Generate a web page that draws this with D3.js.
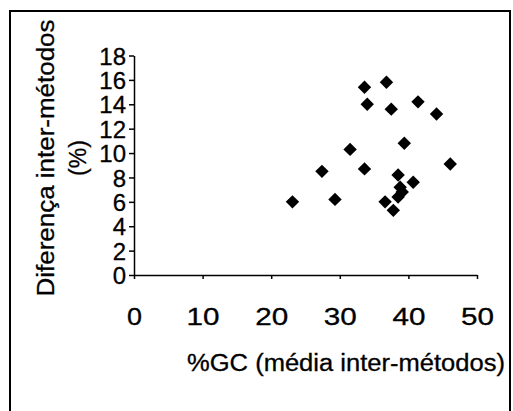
<!DOCTYPE html>
<html><head><meta charset="utf-8">
<script src="https://cdn.jsdelivr.net/npm/d3@7"></script>
<style>body{margin:0;background:#fff}svg{display:block}text{font-family:"Liberation Sans",Arial,sans-serif;fill:#000}</style>
</head><body>
<svg id="c" width="513" height="411"></svg>
<script>
const gcMean = [23.1,29.3,27.4,31.5,33.6,33.6,34.0,36.8,37.5,41.4,44.1,39.4,46.1,36.6,37.8,38.5,40.7,38.8,39.1,38.5];
const diff   = [6.0,6.2,8.5,10.3,8.7,15.4,14.0,15.8,13.6,14.2,13.2,10.8,9.1,6.0,5.3,8.2,7.6,7.2,6.8,6.4];
const xTicks = [0,10,20,30,40,50];
const yTicks = [0,2,4,6,8,10,12,14,16,18];
const xTitle = "%GC (média inter-métodos)";
const yTitle1 = "Diferença inter-métodos";
const yTitle2 = "(%)";

const svg = d3.select("#c");
svg.append("rect").attr("x",10).attr("y",11).attr("width",500).attr("height",420)
  .attr("fill","none").attr("stroke","#000").attr("stroke-width",2);

const x = d3.scaleLinear().domain([0,50]).range([134,477]);
const y = d3.scaleLinear().domain([0,18]).range([275,55.5]);

const xa = svg.append("g").attr("transform","translate(0,275)")
  .call(d3.axisBottom(x).tickValues(xTicks).tickSize(4).tickPadding(29).tickSizeOuter(0));
const ya = svg.append("g").attr("transform","translate(134,0)")
  .call(d3.axisLeft(y).tickValues(yTicks).tickSize(5).tickPadding(3).tickSizeOuter(0));
[xa,ya].forEach(a=>{
  a.select(".domain").attr("stroke","#000").attr("stroke-width",1.5);
  a.selectAll(".tick line").attr("stroke","#000").attr("stroke-width",1.5);
  a.selectAll("text").style("font-family","'Liberation Sans',Arial,sans-serif").attr("font-size",24)
    .attr("fill","#000").attr("stroke","#000").attr("stroke-width",0.3);
});
xa.selectAll("text").attr("dy","0.71em")
  .attr("textLength",d=>String(d).length>1?33:15).attr("lengthAdjust","spacingAndGlyphs");
ya.selectAll("text").attr("dy","0.36em");

svg.append("text").attr("x",187).attr("y",371).attr("font-size",23)
  .attr("stroke","#000").attr("stroke-width",0.3)
  .attr("textLength",318).attr("lengthAdjust","spacingAndGlyphs").text(xTitle);
svg.append("text").attr("transform","translate(54,158) rotate(-90)").attr("text-anchor","middle")
  .attr("stroke","#000").attr("stroke-width",0.3)
  .attr("font-size",23).attr("textLength",277).attr("lengthAdjust","spacingAndGlyphs").text(yTitle1);
svg.append("text").attr("transform","translate(86,158) rotate(-90)").attr("text-anchor","middle")
  .attr("stroke","#000").attr("stroke-width",0.3)
  .attr("font-size",23).text(yTitle2);

const sym = d3.symbol().type(d3.symbolSquare).size(90);
svg.append("g").selectAll("path").data(gcMean.map((g,i)=>[g,diff[i]])).join("path")
  .attr("d",sym).attr("fill","#000")
  .attr("transform",d=>`translate(${x(d[0])},${y(d[1])}) rotate(45)`);
</script>
</body></html>
